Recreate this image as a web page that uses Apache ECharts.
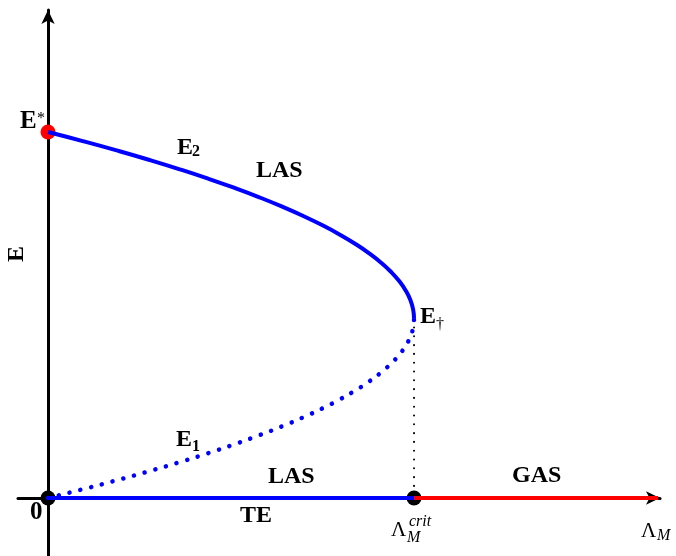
<!DOCTYPE html>
<html>
<head>
<meta charset="utf-8">
<script src="https://cdn.jsdelivr.net/npm/echarts@6/dist/echarts.min.js"></script>
<style>
  html, body { margin: 0; padding: 0; background: #fff; }
  #chart { width: 676px; height: 556px; }
</style>
</head>
<body>
<div id="chart"></div>
<script>
// values (Lambda_M scaled so Lambda_crit = 1, E scaled so E* = 1)
var lambdaVals = [0, 0.0975, 0.19, 0.2775, 0.36, 0.4375, 0.51, 0.5775, 0.64, 0.6975, 0.75,
                  0.7975, 0.84, 0.8775, 0.91, 0.9375, 0.96, 0.9775, 0.99, 0.9975, 1];
// E2 branch (stable, solid)
var upperE = [1, 0.9745, 0.949, 0.9235, 0.898, 0.8725, 0.847, 0.8215, 0.796, 0.7705, 0.745,
              0.7195, 0.694, 0.6685, 0.643, 0.6175, 0.592, 0.5665, 0.541, 0.5155, 0.49];
// E1 branch (unstable, dotted)
var lowerE = [0, 0.0245, 0.049, 0.0735, 0.098, 0.1225, 0.147, 0.1715, 0.196, 0.2205, 0.245,
              0.2695, 0.294, 0.3185, 0.343, 0.3675, 0.392, 0.4165, 0.441, 0.4655, 0.49];
var lambdaCrit = 1;
var lambdaEnd = 1.667;
var eStar = 1;
var eDagger = 0.49;

var upperData = lambdaVals.map(function (x, i) { return [x, upperE[i]]; });
var lowerData = lambdaVals.map(function (x, i) { return [x, lowerE[i]]; });

var serif = '"Liberation Serif", "DejaVu Serif", serif';
function t(x, y, s, size, weight, style) {
    return {
        type: 'text', x: x, y: y, z: 100,
        style: {
            text: s, fill: '#000',
            font: (style || 'normal') + ' ' + (weight || 'bold') + ' ' + size + 'px ' + serif,
            align: 'left', verticalAlign: 'middle'
        }
    };
}

var chart = echarts.init(document.getElementById('chart'));
chart.setOption({
    animation: false,
    grid: { left: 18, right: 16, top: 10, bottom: 0 },
    xAxis: {
        type: 'value', min: -0.082, max: 1.672,
        axisLine: { show: true, onZero: true, symbol: ['none', 'arrow'], symbolSize: [10, 14],
            lineStyle: { color: '#000', width: 3 } },
        axisTick: { show: false }, axisLabel: { show: false }, splitLine: { show: false }
    },
    yAxis: {
        type: 'value', min: -0.1585, max: 1.3333,
        axisLine: { show: true, onZero: true, symbol: ['none', 'arrow'], symbolSize: [10, 14],
            lineStyle: { color: '#000', width: 3 } },
        axisTick: { show: false }, axisLabel: { show: false }, splitLine: { show: false }
    },
    series: [
        {
            type: 'scatter', z: 1, symbolSize: 15, silent: true,
            itemStyle: { opacity: 1 },
            data: [
                { value: [0, 0], itemStyle: { color: '#000' } },
                { value: [lambdaCrit, 0], itemStyle: { color: '#000' } },
                { value: [0, eStar], itemStyle: { color: '#ff0000' } }
            ]
        },
        {
            type: 'line', z: 2, symbol: 'none', silent: true,
            data: [[lambdaCrit, eDagger], [lambdaCrit, 0]],
            lineStyle: { color: '#000', width: 2, type: [0.1, 8.7], cap: 'round' }
        },
        {
            type: 'line', z: 3, symbol: 'none', smooth: true, silent: true,
            data: lowerData,
            lineStyle: { color: '#0000ff', width: 4.5, type: [0.1, 11], cap: 'round' }
        },
        {
            type: 'line', z: 3, symbol: 'none', smooth: true, silent: true,
            data: upperData,
            lineStyle: { color: '#0000ff', width: 4 }
        },
        {
            type: 'line', z: 3, symbol: 'none', silent: true,
            data: [[0, 0], [lambdaCrit, 0]],
            lineStyle: { color: '#0000ff', width: 4 }
        },
        {
            type: 'line', z: 3, symbol: 'none', silent: true,
            data: [[lambdaCrit, 0], [lambdaEnd, 0]],
            lineStyle: { color: '#ff0000', width: 4 }
        }
    ],
    graphic: [
        t(20, 122, 'E', 25),
        t(37, 119, '*', 16, 'normal'),
        t(177, 147.5, 'E', 24),
        t(192, 152, '2', 16),
        t(256, 171, 'LAS', 24),
        t(420, 316.5, 'E', 24),
        t(436, 325, '\u2020', 16, 'normal'),
        t(176, 439.5, 'E', 24),
        t(192, 447, '1', 16),
        t(268, 476.5, 'LAS', 24),
        t(240, 515.5, 'TE', 24),
        t(512, 475.5, 'GAS', 24),
        t(30, 512.5, '0', 25),
        t(391, 530, '\u039B', 21, 'normal'),
        t(409, 522, 'crit', 16, 'normal', 'italic'),
        t(407, 537.5, 'M', 16, 'normal', 'italic'),
        t(641, 531, '\u039B', 21, 'normal'),
        t(657, 536, 'M', 16, 'normal', 'italic'),
        {
            type: 'text', x: 17, y: 254, rotation: Math.PI / 2, z: 100,
            style: {
                text: 'E', fill: '#000', font: 'bold 24px ' + serif,
                align: 'center', verticalAlign: 'middle'
            }
        }
    ]
});
</script>
</body>
</html>
